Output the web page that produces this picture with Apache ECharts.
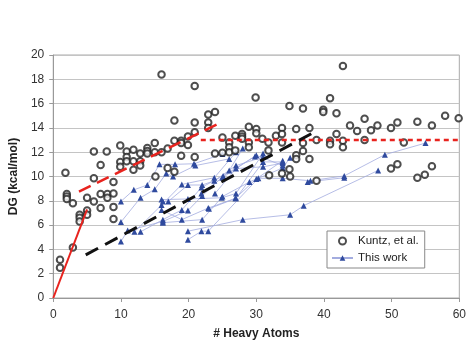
<!DOCTYPE html>
<html>
<head>
<meta charset="utf-8">
<script src="https://cdn.jsdelivr.net/npm/echarts@6/dist/echarts.min.js"></script>
<style>
html,body{margin:0;padding:0;background:#fff;}
#c{width:469px;height:345px;}
</style>
</head>
<body>
<div id="c"></div>
<script>
// Kuntz, et al. data [heavy atoms, DG]
const kuntz = [[1,3.15],[1,2.5],[1.8,10.3],[2,8.55],[2,8.35],[2,8.15],[2.9,7.8],[2.9,4.15],[3.9,6.85],[3.9,6.6],[3.9,6.3],[5,8.25],[5,7.2],[5,6.85],[6,12.05],[6,9.85],[6,7.95],[7,10.95],[7,8.55],[7,7.4],[7.9,12.05],[8,8.55],[8,8.25],[8.9,9.55],[8.9,8.6],[8.9,7.5],[8.9,6.5],[9.9,12.55],[9.9,11.2],[9.9,10.8],[10.85,12.05],[10.85,11.6],[10.85,11.25],[11.85,12.2],[11.85,11.25],[11.85,10.55],[12.85,11.9],[12.85,11.25],[12.85,10.9],[13.9,12.35],[13.9,12.1],[13.9,11.9],[15,12.75],[15,12.0],[15.1,10.0],[16,18.4],[16,12.0],[16.9,12.3],[16.9,10.7],[17.9,14.6],[17.9,12.95],[17.9,10.4],[18.9,12.95],[18.9,12.75],[18.9,11.7],[19.9,13.3],[19.9,12.6],[20.9,17.45],[20.9,14.45],[20.9,13.65],[20.9,11.6],[22.9,15.1],[22.9,14.45],[22.9,14.0],[23.9,15.3],[23.9,11.9],[25,13.2],[25,11.95],[26,12.8],[26,12.4],[26,12.0],[26.9,13.35],[26.9,12.15],[27.9,13.5],[27.9,13.3],[27.9,13.1],[28.9,14.1],[28.9,12.8],[28.9,12.4],[29.9,16.5],[30,13.9],[30,13.55],[30.9,13.1],[31.8,12.8],[31.8,12.15],[31.9,10.1],[32.9,13.35],[33.8,14.0],[33.8,13.5],[33.8,12.8],[33.8,10.25],[34.9,15.8],[34.9,10.6],[35,10.0],[35.9,13.9],[35.9,11.75],[35.9,11.45],[36.9,15.6],[36.9,12.75],[36.9,12.1],[37.85,14.0],[37.85,11.45],[38.9,13.0],[38.9,9.65],[39.9,15.5],[39.9,15.3],[40.9,16.45],[40.9,12.95],[40.9,12.65],[41.85,15.2],[41.85,13.5],[42.8,19.1],[42.8,12.95],[42.8,12.4],[43.85,14.2],[44.9,13.75],[46,14.75],[46,13.0],[46.95,13.8],[47.9,14.2],[49.9,14.0],[49.9,10.65],[50.85,14.45],[50.85,11.0],[51.8,12.8],[53.8,14.5],[53.8,9.9],[54.9,10.15],[55.95,14.2],[55.95,10.85],[57.9,15.0],[59.9,14.8]];

// This work: connected chains of [heavy atoms, DG]
const thisWorkChains = [
  [[10,7.95],[11.9,8.9],[13.9,9.3],[15.7,11.0],[18,11.0],[20.8,11.05],[25,11.85]],
  [[10,6.25],[12.9,8.25],[15,8.95],[16.7,10.25],[17.7,10.0],[21,10.9],[26,11.45]],
  [[10,4.65],[11,5.55],[16.2,6.3],[19.9,7.2],[22,8.4],[26,10.5],[28,12.3]],
  [[12,5.45],[16,7.65],[19,9.35],[23.8,9.9],[27,12.0]],
  [[12.9,5.45],[16.2,6.45],[19,7.25],[21.9,9.1],[25.1,10.05],[29.8,11.65]],
  [[16,8.1],[19.9,8.15],[24.9,8.25],[27,8.6],[31,11.9]],
  [[16.2,7.95],[17,7.95],[19.9,9.3],[22,9.3],[23.8,9.65],[27,10.9],[31,11.6]],
  [[16,7.25],[19,6.45],[22.9,7.4],[26.9,8.2],[30,9.8],[33.9,11.3]],
  [[19.9,5.5],[28,6.45],[35,6.85],[37,7.6],[48,10.5]],
  [[19.9,4.8],[21.9,5.5],[22.9,5.5],[30.3,9.85],[33.9,9.85],[38,9.65],[43,10.05],[49,11.8],[55,12.75]],
  [[16.2,6.2],[22,6.45],[25,8.35],[29,9.55],[33.9,10.7],[35,11.55]],
  [[23.9,8.6],[27,10.65],[31,10.8],[33.9,11.1]],
  [[21.9,8.6],[25,9.9],[30,11.75],[33.9,10.9]],
  [[23,7.35],[27,8.2],[31,11.2],[33.9,11.2]],
  [[37.6,9.55],[43,9.9]]
];

// Trend lines (endpoints)
const redSolid = [[0,0],[5,7.3]];
const redDashed = [[3.8,8.75],[25,14.5]];
const redDotted = [[21.8,13.0],[60,13.0]];
const blackDashed = [[4.8,3.55],[38.9,13.75]];

const xTicks = [0,10,20,30,40,50,60];
const yTicks = [0,2,4,6,8,10,12,14,16,18,20];

const chart = echarts.init(document.getElementById('c'), null, {renderer:'canvas'});
const font = 'Liberation Sans, Arial, sans-serif';

const series = [];
thisWorkChains.forEach(ch => {
  series.push({
    name: 'This work', type: 'line', data: ch,
    symbol: 'triangle', symbolSize: 6,
    itemStyle: {color: '#2f4a9e'},
    lineStyle: {color: '#a3acdf', width: 0.8},
    z: 2, animation: false
  });
});
series.push({
  name: 'Kuntz, et al.', type: 'scatter', data: kuntz,
  symbol: 'emptyCircle', symbolSize: 6.5,
  itemStyle: {color: '#222', borderColor: '#222', borderWidth: 1.1},
  z: 3, animation: false
});
function trend(data, color, width, type) {
  return {type: 'line', data: data, symbol: 'none', silent: true,
    lineStyle: {color: color, width: width, type: type}, z: 4, animation: false};
}
series.push(trend(redSolid, '#e8231e', 2, 'solid'));
series.push(trend(redDashed, '#e8231e', 2.5, [13,7]));
series.push(trend(redDotted, '#e8231e', 2.5, [5,4]));
series.push(trend(blackDashed, '#111', 3, [14,8]));

chart.setOption({
  backgroundColor: '#fff',
  animation: false,
  grid: {left: 51, top: 55, width: 411, height: 246, show: true, borderColor: '#aaa', borderWidth: 1},
  legend: {
    data: [
      {name: 'Kuntz, et al.', icon: 'emptyCircle', itemStyle: {borderWidth: 1.1}},
      {name: 'This work'}
    ],
    orient: 'vertical', left: 327, top: 231,
    borderColor: '#888', borderWidth: 1, backgroundColor: '#fff',
    padding: [4, 6, 4, 4], itemGap: 5, itemWidth: 21, itemHeight: 7,
    textStyle: {fontFamily: font, fontSize: 11.5, color: '#222'}
  },
  xAxis: {
    type: 'value', min: 0, max: 60, interval: 10,
    name: '# Heavy Atoms', nameLocation: 'middle', nameGap: 30,
    nameTextStyle: {fontFamily: font, fontSize: 12, fontWeight: 'bold', color: '#222'},
    axisLine: {show: true, onZero: false, lineStyle: {color: '#999'}},
    axisTick: {show: true, length: 4, lineStyle: {color: '#999'}},
    axisLabel: {margin: 11, fontFamily: font, fontSize: 12, color: '#333',
      formatter: v => xTicks.includes(v) ? String(v) : ''},
    splitLine: {show: false}
  },
  yAxis: {
    type: 'value', min: 0, max: 20, interval: 2,
    name: 'DG (kcal/mol)', nameLocation: 'middle', nameGap: 30, nameRotate: 90,
    nameTextStyle: {fontFamily: font, fontSize: 12, fontWeight: 'bold', color: '#222'},
    axisLine: {show: true, lineStyle: {color: '#999'}},
    axisTick: {show: true, length: 4, lineStyle: {color: '#999'}},
    axisLabel: {margin: 9, fontFamily: font, fontSize: 12, color: '#333',
      formatter: v => yTicks.includes(v) ? String(v) : ''},
    splitLine: {show: true, lineStyle: {color: '#c4c4c4', width: 1}}
  },
  series: series
});
</script>
</body>
</html>
